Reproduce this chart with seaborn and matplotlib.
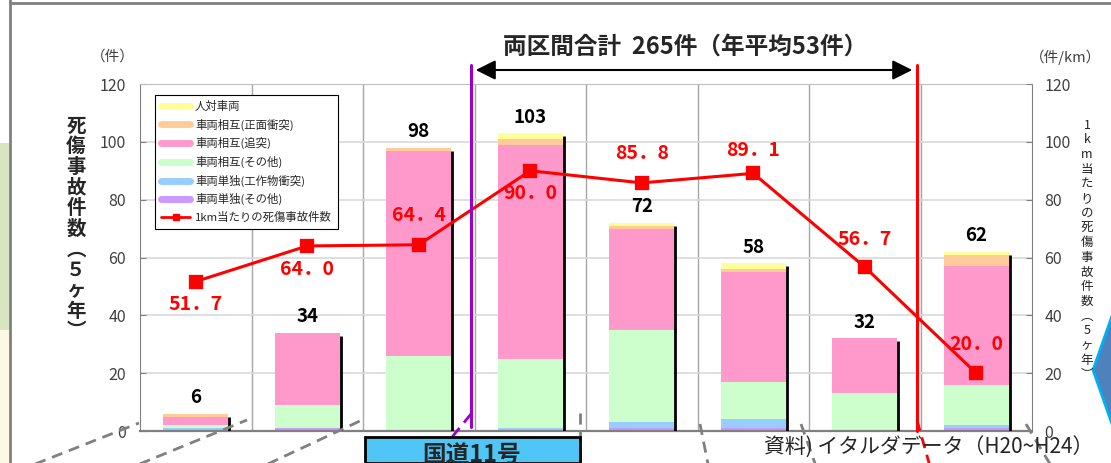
import numpy as np
import pandas as pd
import matplotlib
matplotlib.use("Agg")
import matplotlib.pyplot as plt
from matplotlib.lines import Line2D
from matplotlib.patches import Rectangle, Polygon, FancyArrowPatch
import seaborn as sns

# Data
sections = ["1", "2", "3", "4", "5", "6", "7", "8"]
single_other = [0, 1, 0, 0, 1, 1, 0, 1]     # 車両単独(その他)
single_struct = [1, 0, 0, 1, 2, 3, 0, 1]    # 車両単独(工作物衝突)
mutual_other = [1, 8, 26, 24, 32, 13, 13, 14]  # 車両相互(その他)
mutual_rear = [3, 25, 71, 74, 35, 38, 19, 41]  # 車両相互(追突)
mutual_head = [1, 0, 1, 2, 1, 1, 0, 4]      # 車両相互(正面衝突)
pedestrian = [0, 0, 0, 2, 1, 2, 0, 1]       # 人対車両
per_km = [51.7, 64.0, 64.4, 90.0, 85.8, 89.1, 56.7, 20.0]

layer_names = ["車両単独(その他)", "車両単独(工作物衝突)", "車両相互(その他)",
               "車両相互(追突)", "車両相互(正面衝突)", "人対車両"]
layer_colors = ["#CC99FF", "#99CCFF", "#CCFFCC", "#FF99CC", "#FFCC99", "#FFFF99"]

df = pd.DataFrame({"section": sections,
                   layer_names[0]: single_other,
                   layer_names[1]: single_struct,
                   layer_names[2]: mutual_other,
                   layer_names[3]: mutual_rear,
                   layer_names[4]: mutual_head,
                   layer_names[5]: pedestrian})
cum = df[layer_names].cumsum(axis=1)
totals = cum[layer_names[-1]].values

sns.set_style("white")
plt.rcParams["font.family"] = ["Noto Sans CJK JP", "DejaVu Sans"]

W, H = 1111, 463
fig = plt.figure(figsize=(W / 100, H / 100), dpi=100)


def fx(x):
    return x / W


def fy(y):
    return 1 - y / H


ax = fig.add_axes([fx(140), 32 / H, 892 / W, 347 / H])
bar_w = 0.58

# stacked bars: draw cumulative heights from top layer down
for name, col in zip(layer_names[::-1], layer_colors[::-1]):
    sns.barplot(x=df["section"], y=cum[name], color=col, saturation=1,
                width=bar_w, linewidth=0, ax=ax, zorder=2)

# shadow line on right edge of each bar
ax.vlines(np.arange(len(sections)) + bar_w / 2 + 0.01, 0, totals - 1,
          color="black", lw=2, zorder=3)

# per-km line
sns.pointplot(x=sections, y=per_km, color="#FF0000", markers="s",
              markersize=8, linewidth=2.2, errorbar=None, ax=ax)
for ln in ax.lines:
    ln.set_zorder(5)

ax.set_xlim(-0.5, len(sections) - 0.5)
ax.set_ylim(0, 120)
ax.set_yticks(range(0, 121, 20))
ax.set_xticks([])
ax.set_xlabel("")
ax.set_ylabel("")
ax.set_axisbelow(True)
ax.yaxis.grid(True, color="#D9D9D9", lw=1.2)
for b in np.arange(0.5, len(sections) - 0.5, 1):
    ax.axvline(b, color="#A6A6A6", lw=1, zorder=0)
for s in ["left", "bottom", "right", "top"]:
    ax.spines[s].set_color("#808080")
ax.spines["bottom"].set_linewidth(1.6)
ax.spines["top"].set_color("#BFBFBF")
ax.tick_params(axis="y", direction="in", length=4, color="#808080",
               labelsize=11.5, labelcolor="#404040", pad=10)

ax2 = ax.twinx()
ax2.set_ylim(0, 120)
ax2.set_yticks(range(0, 121, 20))
ax2.tick_params(axis="y", direction="in", length=4, color="#808080",
                labelsize=11.5, labelcolor="#404040", pad=9)
for s in ["left", "bottom", "right", "top"]:
    ax2.spines[s].set_visible(False)

# labels
for i, t in enumerate(totals):
    ax.text(i, t + 2.3, f"{t}", ha="center", va="bottom", fontsize=13.5,
            fontweight="bold", color="black", zorder=6)
label_dy = [-8, -8, 10, -8, 10, 8, 9.5, 10]
for i, (v, dy) in enumerate(zip(per_km, label_dy)):
    ax.text(i, v + dy, f"{v:.1f}".replace(".", "．"), ha="center", va="center",
            fontsize=14, fontweight="bold", color="#FF0000", zorder=6)

# legend
handles = [Line2D([0], [0], color=c, lw=5) for c in layer_colors[::-1]]
handles.append(Line2D([0], [0], color="#FF0000", lw=2, marker="s", markersize=5))
labels = layer_names[::-1] + ["1km当たりの死傷事故件数"]
leg = ax.legend(handles, labels, loc="upper left", bbox_to_anchor=(0.017, 0.968),
                borderaxespad=0, fontsize=8.2, labelspacing=0.58, handlelength=2.6,
                handletextpad=0.4, borderpad=0.5, fancybox=False, framealpha=1,
                edgecolor="black")
leg.get_frame().set_linewidth(0.8)
leg.set_zorder(7)

# axis captions
fig.text(fx(113), fy(57), "（件）", ha="center", va="center", fontsize=10.5, color="#404040")
fig.text(fx(1066), fy(57), "（件/km）", ha="center", va="center", fontsize=10.5, color="#404040")
fig.text(fx(76), fy(229), "\n".join("死傷事故件数︵５ヶ年︶"), ha="center", va="center",
         fontsize=14, fontweight="bold", linespacing=1.1)
fig.text(fx(1087), fy(250), "\n".join("1km当たりの死傷事故件数︵5ヶ年︶"), ha="center",
         va="center", fontsize=9, linespacing=1.17, color="#222222")

# slide decorations
fig.add_artist(Rectangle((0, fy(330)), fx(9), (330 - 143) / H, transform=fig.transFigure,
                         color="#D7E6C0", lw=0))
fig.add_artist(Rectangle((0, 0), fx(9), fy(330), transform=fig.transFigure,
                         color="#FBF9E4", lw=0))
fig.add_artist(Line2D([fx(10), fx(10)], [0, 1], color="#808080", lw=2))
fig.add_artist(Line2D([fx(10), 1], [fy(3), fy(3)], color="#808080", lw=2))

dash = dict(color="#808080", lw=2, ls=(0, (4, 2.5)))
for (x0, y0, x1, y1) in [(20, 470, 139, 423), (125, 470, 247, 420), (255, 470, 362, 420),
                         (580, 413, 580, 463), (700, 424, 709, 469), (801, 424, 817, 469),
                         (1026, 424, 1053, 469)]:
    fig.add_artist(Line2D([fx(x0), fx(x1)], [fy(y0), fy(y1)], **dash))

fig.add_artist(Line2D([fx(471), fx(471)], [fy(65), fy(427)], color="#9900CC", lw=2.2))
fig.add_artist(Line2D([fx(471), fx(425)], [fy(414), fy(470)], color="#9900CC", lw=2,
                      ls=(0, (4, 2.5))))
fig.add_artist(Line2D([fx(917), fx(917)], [fy(65), fy(431)], color="#FF0000", lw=2.2))
fig.add_artist(Line2D([fx(917), fx(931)], [fy(420), fy(470)], color="#FF0000", lw=2,
                      ls=(0, (4, 2.5))))

fig.add_artist(FancyArrowPatch((fx(473), fy(70)), (fx(915), fy(70)), transform=fig.transFigure,
                               arrowstyle="<|-|>,head_length=8,head_width=4", color="black",
                               lw=1.5, mutation_scale=1.5))
fig.text(fx(685), fy(47), "両区間合計  265件（年平均53件）", ha="center", va="center",
         fontsize=17, fontweight="bold")

fig.add_artist(Rectangle((fx(365), 0), (580 - 365) / W, (463 - 437) / H,
                         transform=fig.transFigure, facecolor="#4FC6F5",
                         edgecolor="black", lw=2, zorder=8))
fig.text(fx(472), fy(455), "国道11号", ha="center", va="center", fontsize=17,
         fontweight="bold", zorder=9)
fig.text(fx(764), fy(448), "資料) イタルダデータ（H20~H24）", ha="left", va="center",
         fontsize=15, zorder=9)

fig.add_artist(Polygon([(fx(1093), fy(370)), (fx(1112), fy(316)), (fx(1140), fy(370)),
                        (fx(1112), fy(424))], closed=True, transform=fig.transFigure,
                       facecolor="#4F81BD", edgecolor="#00B0F0", lw=2))

fig.savefig("out.png", dpi=100)
